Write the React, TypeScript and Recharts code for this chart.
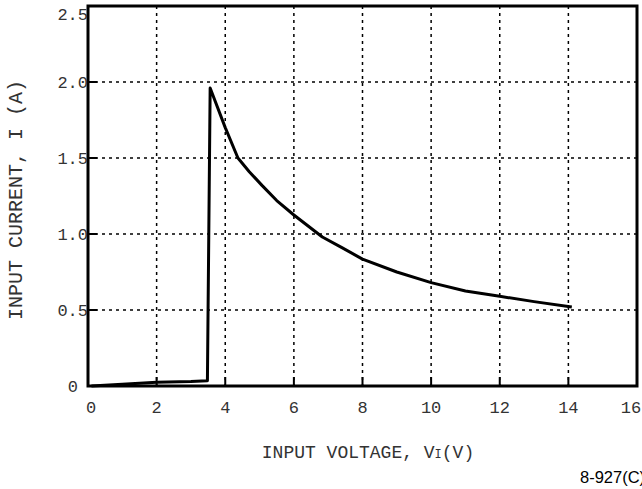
import { LineChart, Line, XAxis, YAxis, CartesianGrid, ReferenceArea } from 'recharts';

const voltage = [0.1, 1, 2, 3, 3.48, 3.56, 4.0, 4.37, 4.7, 5.07, 5.5, 6, 6.83, 7.4, 8, 9, 10, 11, 12, 13, 14.1];
const current = [0.0, 0.012, 0.025, 0.03, 0.035, 1.96, 1.7, 1.5, 1.41, 1.32, 1.22, 1.125, 0.98, 0.91, 0.835, 0.75, 0.68, 0.625, 0.59, 0.555, 0.52];

const xTicks = [0, 2, 4, 6, 8, 10, 12, 14, 16];
const yTicks = [0, 0.5, 1.0, 1.5, 2.0, 2.5];

const data = voltage.map((v, i) => ({ v, i: current[i] }));

const MONO = '"Liberation Mono", "DejaVu Sans Mono", monospace';

function XTick(props: any) {
  const { x, y, payload } = props;
  const tx = payload.value === 16 ? x - 6 : payload.value === 0 ? x + 3 : x;
  return (
    <g>
      <line x1={x} x2={x} y1={y} y2={y - 9} stroke="#000" strokeWidth={2} />
      <text x={tx} y={y + 27} textAnchor="middle" fontFamily={MONO} fontSize={17} fill="#333">
        {payload.value}
      </text>
    </g>
  );
}

function YTick(props: any) {
  const { x, y, payload } = props;
  const val = payload.value;
  const label = val === 0 ? '0' : val.toFixed(1);
  const tx = val === 0 ? x - 10 : x;
  const ty = val === 2.5 ? y + 14 : y + 6;
  return (
    <g>
      <line x1={x} x2={x + 9} y1={y} y2={y} stroke="#000" strokeWidth={2} />
      <text x={tx} y={ty} textAnchor="end" fontFamily={MONO} fontSize={17} fill="#333">
        {label}
      </text>
    </g>
  );
}

export default function App() {
  return (
    <div style={{ position: 'absolute', left: 0, top: 0, width: 642, height: 489, background: '#fff' }}>
      <LineChart width={642} height={489} data={data} margin={{ top: 6, right: 5, bottom: 102, left: 87 }}>
        <CartesianGrid stroke="#000" strokeWidth={1.5} strokeDasharray="3 4" />
        <XAxis
          type="number"
          dataKey="v"
          domain={[0, 16]}
          ticks={xTicks}
          interval={0}
          height={1}
          tickSize={0}
          tickMargin={0}
          axisLine={false}
          tick={(p: any) => <XTick {...p} />}
        />
        <YAxis
          type="number"
          dataKey="i"
          domain={[0, 2.5]}
          ticks={yTicks}
          interval={0}
          width={1}
          tickSize={0}
          tickMargin={0}
          axisLine={false}
          tick={(p: any) => <YTick {...p} />}
        />
        <ReferenceArea x1={0} x2={16} y1={0} y2={2.5} fill="none" fillOpacity={0} stroke="#000" strokeWidth={3} strokeOpacity={1} />
        <Line
          type="linear"
          dataKey="i"
          stroke="#000"
          strokeWidth={3}
          strokeLinejoin="round"
          dot={false}
          isAnimationActive={false}
        />
      </LineChart>
      <svg width={642} height={489} style={{ position: 'absolute', left: 0, top: 0, pointerEvents: 'none' }}>
        <text x={22} y={200} transform="rotate(-90 22 200)" textAnchor="middle" fontFamily={MONO} fontSize={20} fill="#333">
          INPUT CURRENT, I (A)
        </text>
        <text x={368} y={458} textAnchor="middle" fontFamily={MONO} fontSize={18} fill="#333">
          INPUT VOLTAGE, V<tspan fontSize={12}>I</tspan>(V)
        </text>
        <text x={580} y={483} fontFamily='"Liberation Sans", Arial, sans-serif' fontSize={16.5} fill="#000">
          8-927(C)
        </text>
      </svg>
    </div>
  );
}
